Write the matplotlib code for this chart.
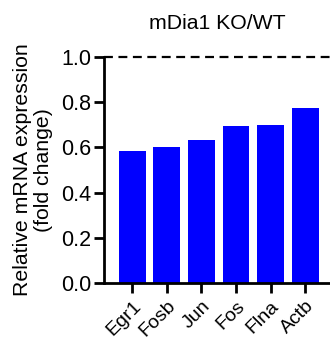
import matplotlib
matplotlib.use("Agg")
import matplotlib.pyplot as plt

genes = ["Egr1", "Fosb", "Jun", "Fos", "Flna", "Actb"]
values = [0.585, 0.601, 0.632, 0.692, 0.697, 0.774]
title = "mDia1 KO/WT"
ylabel = "Relative mRNA expression\n(fold change)"
yticks = [0.0, 0.2, 0.4, 0.6, 0.8, 1.0]

plt.rcParams['font.family'] = ['Liberation Sans', 'DejaVu Sans']

fig = plt.figure(figsize=(3.30, 3.43), dpi=100)
ax = fig.add_axes([0.315, 0.1735, 0.685, 0.6615])
x = list(range(len(genes)))
ax.bar(x, values, width=0.78, color="#0000FF", edgecolor="none")
ax.axhline(1.0, color="black", linestyle=(0, (4, 2.5)), linewidth=1.6, clip_on=False)
ax.set_xlim(-0.82, 5.72)
ax.set_ylim(0, 1.0)
ax.set_yticks(yticks)
ax.set_yticklabels([f"{v:.1f}" for v in yticks], fontsize=15.5)
ax.set_xticks(x)
ax.set_xticklabels(genes, rotation=45, ha="right", rotation_mode="anchor", fontsize=14)
for s in ["top", "right"]:
    ax.spines[s].set_visible(False)
for s in ["left", "bottom"]:
    ax.spines[s].set_linewidth(2)
ax.tick_params(axis="both", width=2, length=7, pad=2)
ax.tick_params(axis="x", pad=3)
ax.set_ylabel(ylabel, fontsize=15.3, labelpad=6, linespacing=1.1)
ax.set_title(title, fontsize=15.3, pad=20)
fig.savefig("out.png", dpi=100)
